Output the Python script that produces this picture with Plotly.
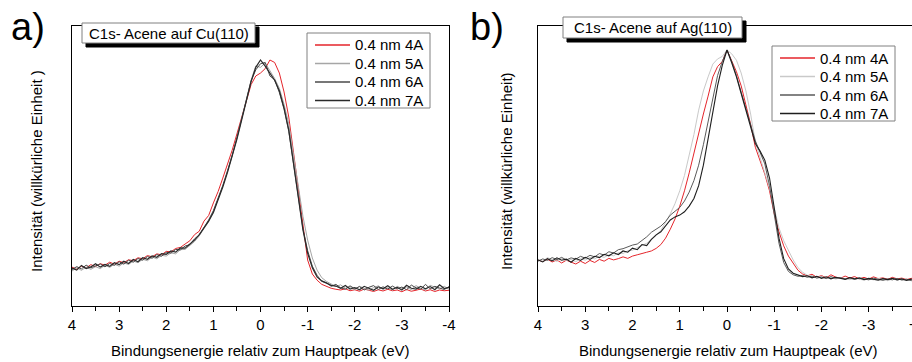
import plotly.graph_objects as go

# Binding energy grid (eV), 4.0 ... -4.0 in 0.1 steps
energy = [round(4.0 - 0.1 * i, 1) for i in range(81)]

# ---------- Panel a) C1s Acene auf Cu(110) ----------
cu_4A = [15.8, 15.0, 16.2, 15.5, 16.8, 16.0, 17.2, 16.6, 17.8, 17.0, 18.2, 17.6, 18.8, 18.4, 19.6, 19.2,
         20.5, 20.0, 21.2, 20.8, 22.2, 22.0, 23.4, 23.8, 25.2, 26.5, 29.0, 30.4, 34.5, 36.8, 41.9, 46.5,
         52.0, 57.5, 63.4, 70.0, 76.5, 83.0, 90.0, 93.5, 94.7, 96.5, 100.0, 99.0, 94.7, 87.0, 76.8, 62.5,
         48.4, 32.5, 18.7, 13.0, 10.5, 8.8, 8.0, 7.2, 6.8, 6.5, 7.0, 6.2, 6.6, 6.0, 6.9, 6.3, 5.9, 6.6,
         6.1, 6.8, 6.2, 6.5, 5.8, 6.7, 6.0, 6.4, 6.9, 6.1, 6.6, 5.9, 6.5, 6.2, 6.4]
cu_5A = [14.2, 15.6, 14.5, 15.8, 14.9, 16.0, 15.2, 16.6, 15.7, 17.0, 16.2, 17.5, 16.9, 18.3, 17.6, 19.0,
         18.4, 19.9, 19.2, 20.6, 20.3, 21.6, 21.2, 22.9, 23.0, 24.6, 26.2, 28.5, 31.2, 34.4, 38.2, 43.2,
         48.8, 54.8, 61.0, 68.2, 76.0, 84.2, 91.8, 97.6, 97.0, 98.8, 95.5, 92.5, 88.5, 82.0, 74.0, 62.0,
         49.0, 36.5, 26.8, 19.5, 14.6, 11.5, 10.0, 8.8, 7.9, 8.6, 7.2, 7.8, 6.6, 8.0, 7.2, 6.4, 7.5, 8.2,
         6.8, 7.4, 6.5, 8.0, 7.1, 7.7, 6.6, 8.3, 7.2, 6.5, 8.4, 7.5, 6.9, 8.0, 6.8]
cu_6A = [14.8, 16.0, 15.1, 16.6, 15.5, 16.4, 17.1, 15.9, 17.3, 16.5, 18.0, 17.0, 18.6, 17.8, 19.3, 18.6,
         20.1, 19.4, 20.9, 20.2, 21.8, 21.5, 23.0, 22.8, 24.4, 24.9, 27.3, 28.8, 32.0, 35.0, 38.8, 43.5,
         49.0, 55.0, 61.2, 68.5, 76.2, 84.0, 91.5, 96.0, 98.5, 99.0, 93.5, 92.0, 86.8, 80.0, 71.0, 58.0,
         44.0, 31.5, 22.5, 16.2, 12.5, 10.0, 9.5, 8.0, 8.8, 7.4, 6.8, 8.2, 7.0, 7.9, 6.5, 7.6, 8.3, 6.7,
         7.8, 6.9, 8.1, 7.0, 7.7, 6.6, 8.5, 7.4, 6.8, 8.8, 7.0, 8.0, 7.3, 6.7, 7.9]
cu_7A = [15.4, 14.6, 16.5, 15.2, 15.9, 17.2, 15.8, 16.9, 16.1, 17.6, 16.8, 18.2, 17.3, 18.9, 18.0, 19.6,
         19.0, 20.4, 19.8, 21.3, 21.0, 22.4, 21.9, 23.6, 23.5, 25.2, 26.8, 29.0, 31.6, 34.5, 38.0, 43.0,
         48.4, 54.3, 60.6, 67.8, 75.6, 83.5, 91.2, 97.0, 100.0, 97.5, 94.7, 91.8, 87.5, 80.5, 71.5, 58.5,
         44.3, 31.0, 21.5, 15.5, 11.8, 10.2, 9.3, 8.4, 8.1, 7.2, 8.3, 6.9, 7.5, 6.6, 8.0, 7.1, 6.4, 7.8,
         7.0, 8.2, 6.8, 7.6, 6.5, 8.4, 7.2, 6.9, 8.0, 7.0, 7.9, 6.6, 8.6, 7.1, 7.6]

# ---------- Panel b) C1s Acene auf Ag(110) ----------
ag_4A = [18.0, 17.4, 18.3, 17.2, 18.0, 16.8, 17.9, 17.0, 16.4, 17.5, 16.6, 17.8, 17.0, 18.2, 17.5, 18.6,
         18.0, 18.5, 19.2, 18.6, 19.5, 20.0, 20.4, 21.0, 21.5, 22.5, 24.0, 26.5, 30.0, 34.0, 39.0, 45.0,
         52.0, 60.0, 67.0, 75.0, 82.0, 89.5, 93.5, 95.5, 100.0, 96.0, 91.5, 86.0, 79.0, 71.0, 62.0, 57.0,
         51.5, 45.0, 36.0, 29.0, 23.5, 19.5, 16.5, 14.0, 12.5, 11.8, 12.4, 11.2, 11.9, 11.0, 12.2, 11.3,
         10.8, 11.7, 10.9, 11.5, 10.6, 11.2, 10.5, 11.4, 10.7, 11.0, 10.4, 11.2, 10.6, 10.9, 10.3, 10.8, 10.5]
ag_5A = [18.3, 17.5, 18.9, 18.0, 17.4, 18.6, 17.8, 18.2, 17.3, 18.5, 17.9, 19.0, 18.4, 19.5, 19.0, 20.0,
         19.6, 20.8, 20.5, 21.6, 21.8, 22.8, 23.6, 24.5, 26.0, 27.5, 29.5, 32.5, 36.0, 40.0, 45.0, 51.0,
         58.5, 67.0, 76.5, 84.0, 89.5, 94.5, 96.5, 97.5, 100.0, 98.5, 96.0, 91.0, 84.0, 75.0, 64.0, 57.5,
         52.0, 46.0, 38.0, 30.5, 25.5, 21.5, 18.0, 15.0, 13.2, 12.0, 11.5, 11.0, 11.6, 10.8, 11.2, 10.5,
         11.0, 10.7, 10.3, 10.9, 10.5, 10.1, 10.6, 10.2, 10.8, 10.3, 9.9, 10.5, 10.1, 10.6, 10.0, 10.3, 9.8]
ag_6A = [17.5, 18.4, 17.8, 18.9, 18.1, 19.0, 18.0, 18.8, 18.3, 19.4, 18.7, 19.8, 19.2, 20.5, 19.9, 21.2,
         20.7, 22.0, 22.4, 23.2, 23.8, 24.2, 25.6, 27.0, 28.8, 30.0, 31.2, 33.0, 35.5, 37.0, 38.5, 41.0,
         44.5, 49.0, 55.0, 63.0, 72.0, 82.0, 90.0, 95.5, 100.0, 95.5, 90.0, 83.5, 77.0, 71.0, 64.5, 60.0,
         55.5, 47.0, 35.5, 24.5, 17.0, 13.5, 12.2, 11.6, 11.9, 11.2, 11.7, 10.9, 11.3, 10.7, 11.5, 10.8,
         11.1, 10.5, 10.9, 10.4, 11.0, 10.6, 10.2, 10.9, 10.4, 10.0, 10.6, 10.2, 10.8, 10.1, 10.5, 9.9, 10.4]
ag_7A = [18.0, 17.2, 18.5, 17.6, 18.8, 17.9, 18.3, 17.1, 18.6, 17.8, 19.0, 18.2, 19.4, 18.9, 20.2, 19.6,
         20.8, 20.1, 21.5, 21.0, 22.6, 22.0, 24.0, 23.6, 26.0, 27.8, 29.0, 31.5, 33.6, 34.8, 35.5, 36.8,
         39.0, 42.0, 47.0, 55.0, 65.0, 76.0, 86.0, 94.0, 100.0, 95.0, 89.5, 83.0, 76.5, 70.5, 63.5, 60.5,
         57.0, 50.0, 38.0, 26.5, 18.5, 14.5, 12.8, 12.0, 11.5, 11.8, 11.0, 11.6, 10.8, 11.4, 10.6, 11.2,
         10.9, 10.4, 11.1, 10.6, 10.9, 10.3, 10.8, 10.5, 10.1, 10.7, 10.3, 10.8, 10.2, 10.6, 10.0, 10.5, 10.3]

series_names = ["0.4 nm 4A", "0.4 nm 5A", "0.4 nm 6A", "0.4 nm 7A"]
tick_vals = [4, 3, 2, 1, 0, -1, -2, -3, -4]
tick_text = ["4", "3", "2", "1", "0", "-1", "-2", "-3", "-4"]

FONT = "Arial, Liberation Sans, Helvetica, sans-serif"
W, H = 912, 362

def px(x):
    return x / W

def py(y):
    return 1 - y / H

fig = go.Figure()

colors_a = ["#e5252b", "#a6a6a6", "#4a4a4a", "#2a2a2a"]
widths_a = [1.0, 1.0, 1.0, 1.2]
for name, ys, c, w in zip(series_names, [cu_4A, cu_5A, cu_6A, cu_7A], colors_a, widths_a):
    fig.add_trace(go.Scatter(x=energy, y=ys, mode="lines", name=name, showlegend=False,
                             line=dict(color=c, width=w), xaxis="x", yaxis="y"))

colors_b = ["#e5252b", "#c9c9c9", "#5a5a5a", "#1e1e1e"]
widths_b = [1.0, 1.0, 1.0, 1.1]
for name, ys, c, w in zip(series_names, [ag_4A, ag_5A, ag_6A, ag_7A], colors_b, widths_b):
    fig.add_trace(go.Scatter(x=energy, y=ys, mode="lines", name=name, showlegend=False,
                             line=dict(color=c, width=w), xaxis="x2", yaxis="y2"))

y_top, y_bot = 26, 306
xa_common = dict(
    showline=True, linecolor="black", linewidth=1, mirror=True,
    ticks="outside", ticklen=5, tickcolor="black", tickwidth=1,
    tickmode="array", tickvals=tick_vals, ticktext=tick_text,
    minor=dict(ticks="outside", ticklen=4, dtick=0.5, tickcolor="black"),
    showgrid=False, zeroline=False,
    tickfont=dict(family=FONT, size=15, color="black"),
)
ya_common = dict(showline=True, linecolor="black", linewidth=1,
                 showticklabels=False, ticks="", showgrid=False, zeroline=False,
                 domain=[py(y_bot), py(y_top)])

fig.update_layout(
    width=W, height=H,
    margin=dict(l=0, r=0, t=0, b=0, autoexpand=False),
    paper_bgcolor="white", plot_bgcolor="white",
    showlegend=False,
    xaxis=dict(domain=[px(72), px(449)], range=[4, -4], anchor="y", **xa_common),
    yaxis=dict(range=[0, (y_bot - y_top) / 2.46], anchor="x", mirror=True, **ya_common),
    xaxis2=dict(domain=[px(538), 1.0], range=[4, 4 - (912 - 538) / 47.25], anchor="y2", **xa_common),
    yaxis2=dict(range=[0, (y_bot - y_top) / 2.56], anchor="x2", mirror=False, **ya_common),
)

# Legend boxes (drawn as a framed key, one row per series)
legends = [
    (307, 430, 33, 108, 315, 350, 353, 45.0, colors_a, widths_a),
    (772, 895, 46, 121, 780, 815, 818, 58.0, colors_b, widths_b),
]
for bx0, bx1, by0, by1, lx0, lx1, tx, row0, cols, wids in legends:
    fig.add_shape(type="rect", xref="paper", yref="paper",
                  x0=px(bx0), x1=px(bx1), y0=py(by0), y1=py(by1),
                  fillcolor="white", line=dict(color="#808080", width=1), layer="above")
    for i, (name, c, w) in enumerate(zip(series_names, cols, wids)):
        yy = row0 + i * 18.5
        fig.add_shape(type="line", xref="paper", yref="paper",
                      x0=px(lx0), x1=px(lx1), y0=py(yy), y1=py(yy),
                      line=dict(color=c, width=w + 0.3), layer="above")
        fig.add_annotation(x=px(tx), y=py(yy), xref="paper", yref="paper", text=name,
                           showarrow=False, xanchor="left", yanchor="middle",
                           font=dict(family=FONT, size=15, color="black"))

# Title boxes with drop shadow
boxes = [
    (82, 255, 23, 43, "C1s- Acene auf Cu(110)"),
    (563, 742, 17, 38, "C1s- Acene auf Ag(110)"),
]
for x0, x1, y0, y1, txt in boxes:
    fig.add_shape(type="rect", xref="paper", yref="paper",
                  x0=px(x0 + 4), x1=px(x1 + 4), y0=py(y0 + 4), y1=py(y1 + 4),
                  fillcolor="black", line=dict(color="black", width=1), layer="above")
    fig.add_shape(type="rect", xref="paper", yref="paper",
                  x0=px(x0), x1=px(x1), y0=py(y0), y1=py(y1),
                  fillcolor="white", line=dict(color="#808080", width=1), layer="above")
    fig.add_annotation(x=px((x0 + x1) / 2), y=py((y0 + y1) / 2), xref="paper", yref="paper",
                       text=txt, showarrow=False, xanchor="center", yanchor="middle",
                       font=dict(family=FONT, size=15, color="black"))

# Panel letters
fig.add_annotation(x=px(28), y=py(27), xref="paper", yref="paper", text="a)", showarrow=False,
                   xanchor="center", yanchor="middle", font=dict(family=FONT, size=38, color="black"))
fig.add_annotation(x=px(487), y=py(27), xref="paper", yref="paper", text="b)", showarrow=False,
                   xanchor="center", yanchor="middle", font=dict(family=FONT, size=38, color="black"))

# Axis titles
for cx, txt in [(37, "Intensität (willkürliche Einheit )"), (507, "Intensität (willkürliche Einheit)")]:
    fig.add_annotation(x=px(cx), y=py(171), xref="paper", yref="paper", text=txt, showarrow=False,
                       textangle=-90, xanchor="center", yanchor="middle",
                       font=dict(family=FONT, size=15, color="black"))
for cx in [260, 728]:
    fig.add_annotation(x=px(cx), y=py(350), xref="paper", yref="paper",
                       text="Bindungsenergie relativ zum Hauptpeak (eV)", showarrow=False,
                       xanchor="center", yanchor="middle",
                       font=dict(family=FONT, size=15, color="black"))

# "-4" tick label of panel b sits at the right page edge (cut off in the original too)
fig.add_annotation(x=px(916), y=py(323), xref="paper", yref="paper", text="-4", showarrow=False,
                   xanchor="center", yanchor="middle", font=dict(family=FONT, size=15, color="black"))

fig.write_html("out.html")
